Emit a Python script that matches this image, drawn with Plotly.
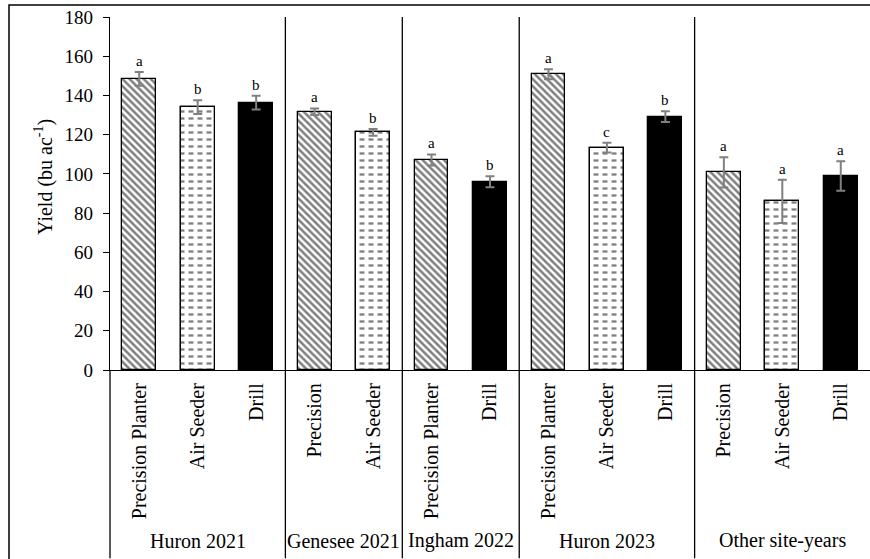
import plotly.graph_objects as go

# Site-year groups and the seeding method for each bar
groups = ["Huron 2021", "Genesee 2021", "Ingham 2022", "Huron 2023", "Other site-years"]
group_sizes = [3, 2, 2, 3, 3]
bar_labels = ["Precision Planter", "Air Seeder", "Drill",
              "Precision", "Air Seeder",
              "Precision Planter", "Drill",
              "Precision Planter", "Air Seeder", "Drill",
              "Precision", "Air Seeder", "Drill"]
methods = ["PP", "AS", "DR",
           "PP", "AS",
           "PP", "DR",
           "PP", "AS", "DR",
           "PP", "AS", "DR"]
yields = [148.4, 134.1, 136.3,
          131.7, 121.2,
          107.1, 96.0,
          150.8, 113.4, 129.2,
          100.8, 86.0, 98.9]
errors = [3.5, 3.5, 3.5,
          1.7, 1.7,
          2.8, 2.8,
          2.5, 2.5, 2.8,
          7.7, 11.0, 7.5]
letters = ["a", "b", "b",
           "a", "b",
           "a", "b",
           "a", "c", "b",
           "a", "a", "a"]

FONT = "Liberation Serif"
BAR_W = 0.58
ERR_COLOR = "#808080"

pos = list(range(len(yields)))


def subset(code):
    idx = [i for i, m in enumerate(methods) if m == code]
    return ([pos[i] for i in idx], [yields[i] for i in idx], [errors[i] for i in idx])


def err_style(e):
    return dict(type="data", array=e, visible=True, color=ERR_COLOR,
                thickness=2, width=4.5)


fig = go.Figure()

# Precision planter: diagonal hatch
x, y, e = subset("PP")
fig.add_trace(go.Bar(
    x=x, y=y, width=BAR_W, error_y=err_style(e),
    marker=dict(color="white",
                line=dict(color="black", width=1.3),
                pattern=dict(shape="\\", fgcolor="black", bgcolor="white",
                             size=5, solidity=0.5, fillmode="overlay")),
    showlegend=False))

# Air seeder: dashed horizontal lines (black rules, cut by white vertical strips)
x, y, e = subset("AS")
fig.add_trace(go.Bar(
    x=x, y=y, width=BAR_W,
    marker=dict(color="white",
                line=dict(color="black", width=1.3),
                pattern=dict(shape="-", fgcolor="black", bgcolor="white",
                             size=7, solidity=0.33, fillmode="overlay")),
    showlegend=False))
fig.add_trace(go.Bar(
    x=x, y=y, width=BAR_W, error_y=err_style(e),
    marker=dict(color="white",
                line=dict(color="black", width=1.3),
                pattern=dict(shape="|", fgcolor="white", bgcolor="rgba(255,255,255,0)",
                             size=9, solidity=0.45, fillmode="replace")),
    showlegend=False))

# Drill: solid black
x, y, e = subset("DR")
fig.add_trace(go.Bar(
    x=x, y=y, width=BAR_W, error_y=err_style(e),
    marker=dict(color="black", line=dict(color="black", width=1.3)),
    showlegend=False))

# Mean separation letters above the error bars
annotations = []
for p, v, er, t in zip(pos, yields, errors, letters):
    annotations.append(dict(x=p, y=v + er, text=t, showarrow=False,
                            xref="x", yref="y", yanchor="bottom", yshift=1,
                            font=dict(family=FONT, size=15, color="black")))

# Group labels and separators below the axis
shapes = []
start = 0
for g, n in zip(groups, group_sizes):
    center = start + (n - 1) / 2
    annotations.append(dict(x=center, y=-0.484, text=g, showarrow=False,
                            xref="x", yref="paper", yanchor="middle",
                            font=dict(family=FONT, size=20, color="black")))
    start += n
    if start < len(pos):
        shapes.append(dict(type="line", xref="x", yref="paper",
                           x0=start - 0.5, x1=start - 0.5, y0=-0.533, y1=1,
                           line=dict(color="black", width=1.3)))

# y-axis line continued through the category label area
shapes.append(dict(type="line", xref="paper", yref="paper",
                   x0=0, x1=0, y0=-0.533, y1=0,
                   line=dict(color="black", width=1.3)))
# chart frame
shapes.append(dict(type="rect", xref="paper", yref="paper",
                   x0=-0.1329, x1=1.05, y0=-0.6, y1=1.034,
                   line=dict(color="black", width=1.5), layer="below"))

annotations.append(dict(x=-0.0868, y=0.547, xref="paper", yref="paper",
                        text="Yield (bu ac<sup>-1</sup>)", textangle=-90,
                        showarrow=False, xanchor="center", yanchor="middle",
                        font=dict(family=FONT, size=20, color="black")))

fig.update_layout(
    width=870, height=559,
    margin=dict(l=110, r=0, t=17, b=189),
    paper_bgcolor="white", plot_bgcolor="white",
    barmode="overlay",
    bargap=0,
    font=dict(family=FONT, color="black"),
    annotations=annotations,
    shapes=shapes,
    xaxis=dict(range=[-0.5, len(pos) - 0.5], tickmode="array",
               tickvals=pos, ticktext=bar_labels, tickangle=-90,
               ticks="", ticklabelstandoff=4, showgrid=False, zeroline=False,
               showline=True, linecolor="black", linewidth=1.3,
               tickfont=dict(family=FONT, size=20, color="black")),
    yaxis=dict(range=[0, 180], dtick=20, ticks="outside", ticklen=6,
               tickcolor="black", tickwidth=1.3, ticklabelstandoff=6,
               showgrid=False, zeroline=False,
               showline=True, linecolor="black", linewidth=1.3,
               tickfont=dict(family=FONT, size=19, color="black")),
)

fig.write_html("out.html")
